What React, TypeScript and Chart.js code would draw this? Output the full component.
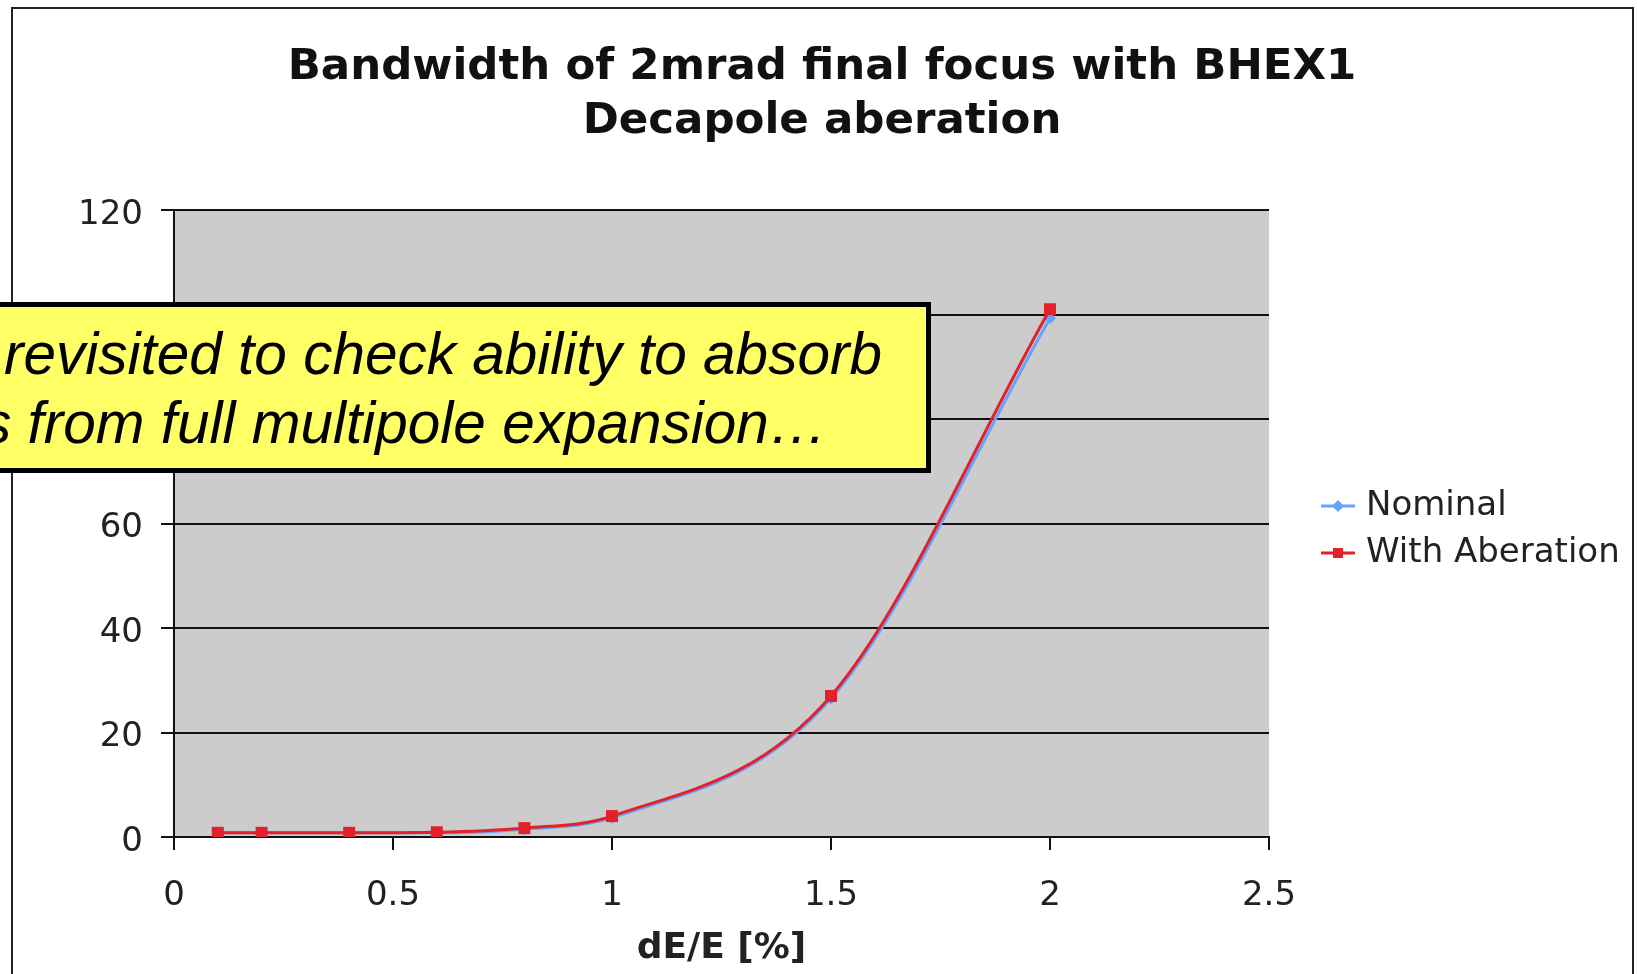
import React, { useEffect, useRef } from 'react';
import { Chart, registerables } from 'chart.js';

Chart.register(...registerables);

const TITLE_LINES = ['Bandwidth of 2mrad final focus with BHEX1', 'Decapole aberation'];
const X_TITLE = 'dE/E [%]';
const SERIES_NAMES = ['Nominal', 'With Aberation'];
const DE_E = [0.1, 0.2, 0.4, 0.6, 0.8, 1.0, 1.5, 2.0];
const NOMINAL = [0.8, 0.8, 0.8, 0.8, 1.5, 3.7, 26.5, 99.3];
const WITH_ABERATION = [0.8, 0.8, 0.8, 0.9, 1.7, 4.0, 27.0, 101.0];
const X_MIN = 0;
const X_MAX = 2.5;
const X_STEP = 0.5;
const Y_MIN = 0;
const Y_MAX = 120;
const Y_STEP = 20;
const CALLOUT_LINES = ['revisited to check ability to absorb', 's from full multipole expansion\u2026'];

const BLUE = '#66a3ff';
const RED = '#e3212b';
const FONT = '"DejaVu Sans", Verdana, sans-serif';

const fmt = (v: number | string) => String(Math.round(Number(v) * 100) / 100);

const chromePlugin = {
  id: 'chrome',
  beforeDraw(chart: any) {
    const { ctx, chartArea: a } = chart;
    ctx.save();
    ctx.fillStyle = '#cccccc';
    ctx.fillRect(a.left, a.top, a.right - a.left, a.bottom - a.top);
    ctx.restore();
  },
  afterDraw(chart: any) {
    const { ctx } = chart;
    ctx.save();
    // title
    ctx.fillStyle = '#111';
    ctx.font = `bold 43.5px ${FONT}`;
    ctx.textAlign = 'center';
    ctx.textBaseline = 'middle';
    TITLE_LINES.forEach((t, i) => ctx.fillText(t, 822, 68 + i * 54));
    // legend
    const colors = [BLUE, RED];
    SERIES_NAMES.forEach((name, i) => {
      const y = 506 + i * 47;
      ctx.strokeStyle = colors[i];
      ctx.lineWidth = 3;
      ctx.beginPath();
      ctx.moveTo(1321, y);
      ctx.lineTo(1355, y);
      ctx.stroke();
      ctx.fillStyle = colors[i];
      if (i === 0) {
        const r = 6;
        ctx.beginPath();
        ctx.moveTo(1338, y - r);
        ctx.lineTo(1338 + r, y);
        ctx.lineTo(1338, y + r);
        ctx.lineTo(1338 - r, y);
        ctx.closePath();
        ctx.fill();
      } else {
        ctx.fillRect(1333, y - 5, 10, 10);
      }
      ctx.fillStyle = '#222';
      ctx.font = `34px ${FONT}`;
      ctx.textAlign = 'left';
      ctx.textBaseline = 'middle';
      ctx.fillText(name, 1366, y);
    });
    ctx.restore();
  },
};

export default function App() {
  const ref = useRef<HTMLCanvasElement>(null);

  useEffect(() => {
    if (!ref.current) return;
    const chart = new Chart(ref.current, {
      type: 'line',
      data: {
        datasets: [
          {
            label: SERIES_NAMES[0],
            data: DE_E.map((x, i) => ({ x, y: NOMINAL[i] })),
            borderColor: BLUE,
            backgroundColor: BLUE,
            borderWidth: 3,
            pointStyle: 'rectRot',
            pointRadius: 6,
            pointBorderWidth: 0,
            cubicInterpolationMode: 'monotone',
            order: 1,
          },
          {
            label: SERIES_NAMES[1],
            data: DE_E.map((x, i) => ({ x, y: WITH_ABERATION[i] })),
            borderColor: RED,
            backgroundColor: RED,
            borderWidth: 3,
            pointStyle: 'rect',
            pointRadius: 8.5,
            pointBorderWidth: 0,
            cubicInterpolationMode: 'monotone',
            order: 0,
          },
        ],
      },
      options: {
        animation: false,
        responsive: false,
        devicePixelRatio: 1,
        layout: { padding: { top: 210, right: 368, left: 0, bottom: 0 } },
        plugins: {
          legend: { display: false },
          title: { display: false },
          tooltip: { enabled: false },
        },
        scales: {
          x: {
            type: 'linear',
            min: X_MIN,
            max: X_MAX,
            afterFit: (s: any) => {
              s.height = 137;
            },
            grid: { drawOnChartArea: false, color: '#111', lineWidth: 2, tickLength: 13 },
            border: { display: true, color: '#111', width: 2 },
            ticks: {
              stepSize: X_STEP,
              padding: 26,
              color: '#222',
              font: { family: FONT, size: 34 },
              callback: fmt,
            },
            title: {
              display: true,
              text: X_TITLE,
              color: '#222',
              font: { family: FONT, size: 36, weight: 'bold' },
              padding: { top: 0, bottom: 4 },
            },
          },
          y: {
            type: 'linear',
            min: Y_MIN,
            max: Y_MAX,
            afterFit: (s: any) => {
              s.width = 174;
            },
            grid: { color: '#111', lineWidth: 2, tickLength: 13 },
            border: { display: true, color: '#111', width: 2 },
            ticks: {
              stepSize: Y_STEP,
              padding: 18,
              labelOffset: 5,
              color: '#222',
              font: { family: FONT, size: 34 },
              callback: fmt,
            },
          },
        },
      },
      plugins: [chromePlugin],
    } as any);
    return () => chart.destroy();
  }, []);

  return (
    <div>
      <canvas
        ref={ref}
        width={1637}
        height={974}
        style={{ position: 'fixed', left: 0, top: 0, width: 1637, height: 974, background: '#fff' }}
      />
      <div
        style={{
          position: 'fixed',
          left: 11,
          top: 7,
          width: 1623,
          height: 1000,
          boxSizing: 'border-box',
          border: '2px solid #222',
          pointerEvents: 'none',
        }}
      />
      <div
        style={{
          position: 'fixed',
          left: -60,
          top: 302,
          width: 991,
          height: 171,
          boxSizing: 'border-box',
          border: '5px solid #000',
          background: '#ffff66',
        }}
      />
      {CALLOUT_LINES.map((t, i) => (
        <div
          key={i}
          style={{
            position: 'fixed',
            left: i === 0 ? 4 : -18,
            top: i === 0 ? 324 : 393,
            fontFamily: '"Liberation Sans", Arial, sans-serif',
            fontStyle: 'italic',
            fontSize: 58.5,
            lineHeight: '59px',
            whiteSpace: 'nowrap',
            color: '#000',
          }}
        >
          {t}
        </div>
      ))}
    </div>
  );
}
